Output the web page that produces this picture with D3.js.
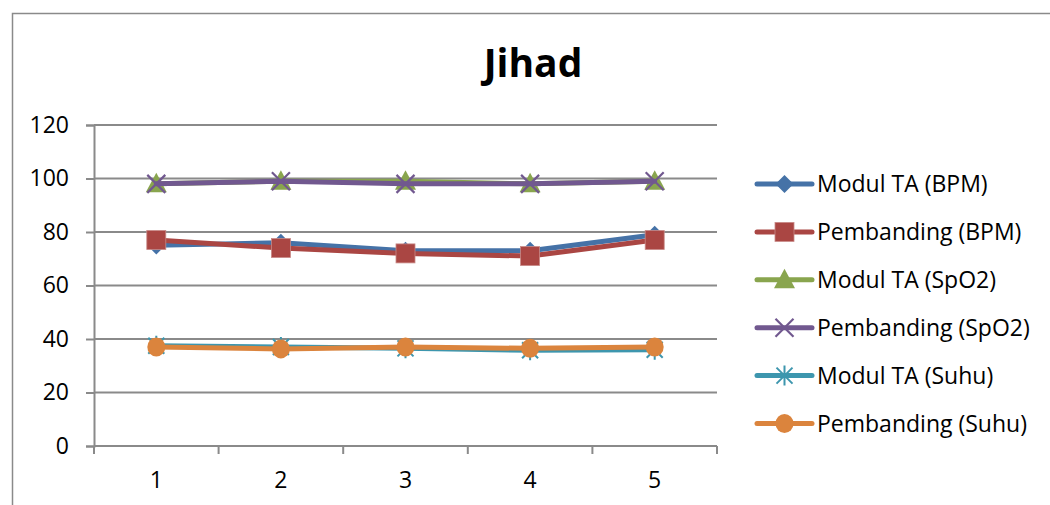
<!DOCTYPE html>
<html>
<head>
<meta charset="utf-8">
<script src="https://cdn.jsdelivr.net/npm/d3@7"></script>
<style>
  html, body { margin: 0; padding: 0; background: #fff; }
  svg { display: block; }
  text { font-family: "Open Sans", "DejaVu Sans", sans-serif; fill: #000; }
</style>
</head>
<body>
<svg id="chart" width="1050" height="505"></svg>
<script>
// Measurement rounds shown on the x axis
const categories = ["1", "2", "3", "4", "5"];
const yTicks = [0, 20, 40, 60, 80, 100, 120];

// Readings per round
const modulBPM = [75, 76, 73, 73, 79];
const pembandingBPM = [77, 74, 72, 71, 77];
const modulSpO2 = [98, 99, 99, 98, 99];
const pembandingSpO2 = [98, 99, 98, 98, 99];
const modulSuhu = [37.5, 37, 36.5, 35.8, 36];
const pembandingSuhu = [37, 36.3, 37, 36.5, 37];

const seriesNames = [
  "Modul TA (BPM)", "Pembanding (BPM)",
  "Modul TA (SpO2)", "Pembanding (SpO2)",
  "Modul TA (Suhu)", "Pembanding (Suhu)"
];
const seriesValues = [modulBPM, pembandingBPM, modulSpO2, pembandingSpO2, modulSuhu, pembandingSuhu];
const seriesColors = ["#4572A7", "#AA4643", "#89A54E", "#71588F", "#3D96AE", "#DB843D"];
const seriesMarkers = ["diamond", "square", "triangle", "cross", "star", "circle"];

const svg = d3.select("#chart");

// outer chart frame
svg.append("rect")
  .attr("x", 12.5).attr("y", 13.5)
  .attr("width", 1100).attr("height", 600)
  .attr("fill", "none").attr("stroke", "#8a8a8a").attr("stroke-width", 1.5);

const plot = { left: 94, right: 717, top: 125, bottom: 446 };

const x = d3.scaleBand().domain(categories).range([plot.left, plot.right]).padding(0);
const y = d3.scaleLinear().domain([0, 120]).range([plot.bottom, plot.top]);
const cx = c => x(c) + x.bandwidth() / 2;

// title
svg.append("text")
  .attr("x", 533).attr("y", 77)
  .attr("text-anchor", "middle")
  .attr("font-size", 39).attr("font-weight", "bold")
  .text("Jihad");

// horizontal gridlines
svg.append("g")
  .selectAll("line")
  .data(yTicks.filter(t => t > 0))
  .join("line")
  .attr("x1", plot.left).attr("x2", plot.right)
  .attr("y1", d => y(d)).attr("y2", d => y(d))
  .attr("stroke", "#8a8a8a").attr("stroke-width", 2);

// y axis
const yAxis = svg.append("g")
  .attr("transform", `translate(${plot.left},0)`)
  .call(d3.axisLeft(y).tickValues(yTicks).tickSize(8).tickPadding(17).tickFormat(d3.format("d")));
yAxis.select(".domain").attr("stroke", "#8a8a8a").attr("stroke-width", 2);
yAxis.selectAll(".tick line").attr("stroke", "#8a8a8a").attr("stroke-width", 2);
yAxis.selectAll(".tick text")
  .attr("font-size", 23).attr("font-family", "Open Sans, sans-serif").attr("fill", "#000");

// x axis: ticks between categories
const xAxisG = svg.append("g").attr("transform", `translate(0,${plot.bottom})`);
xAxisG.append("line")
  .attr("x1", plot.left).attr("x2", plot.right)
  .attr("stroke", "#8a8a8a").attr("stroke-width", 2);
const boundaries = categories.map(c => x(c)).concat([plot.right]);
xAxisG.selectAll("line.tk")
  .data(boundaries)
  .join("line").attr("class", "tk")
  .attr("x1", d => d).attr("x2", d => d)
  .attr("y1", 0).attr("y2", 8)
  .attr("stroke", "#8a8a8a").attr("stroke-width", 2);
xAxisG.selectAll("text")
  .data(categories)
  .join("text")
  .attr("x", d => cx(d)).attr("y", 42)
  .attr("text-anchor", "middle")
  .attr("font-size", 23)
  .text(d => d);

// marker drawing
function drawMarker(g, type, color) {
  switch (type) {
    case "diamond":
      g.append("path").attr("d", "M0,-9L9,0L0,9L-9,0Z").attr("fill", color);
      break;
    case "square":
      g.append("rect").attr("x", -9.5).attr("y", -9.5).attr("width", 19).attr("height", 19)
        .attr("fill", color).attr("stroke", "#c98a88").attr("stroke-width", 0.8);
      break;
    case "triangle":
      g.append("path").attr("d", "M0,-11L10.5,8.5L-10.5,8.5Z").attr("fill", color);
      break;
    case "cross":
      g.append("path").attr("d", "M-9,-9L9,9M9,-9L-9,9")
        .attr("stroke", color).attr("stroke-width", 2.2).attr("fill", "none");
      break;
    case "star":
      g.append("path").attr("d", "M-8,-8L8,8M8,-8L-8,8M0,-10L0,10")
        .attr("stroke", color).attr("stroke-width", 2).attr("fill", "none");
      break;
    case "circle":
      g.append("ellipse").attr("rx", 9).attr("ry", 9.5).attr("fill", color);
      break;
  }
}

const line = d3.line().x((d, i) => cx(categories[i])).y(d => y(d));

// series lines and markers
seriesValues.forEach((vals, si) => {
  const g = svg.append("g");
  g.append("path")
    .datum(vals)
    .attr("d", line)
    .attr("fill", "none")
    .attr("stroke", seriesColors[si])
    .attr("stroke-width", 5)
    .attr("stroke-linejoin", "round")
    .attr("stroke-linecap", "round");
  vals.forEach((v, i) => {
    const mg = g.append("g").attr("transform", `translate(${cx(categories[i])},${y(v)})`);
    drawMarker(mg, seriesMarkers[si], seriesColors[si]);
  });
});

// legend
const legend = svg.append("g");
seriesNames.forEach((name, si) => {
  const ly = 184 + si * 47.9;
  const row = legend.append("g");
  row.append("line")
    .attr("x1", 757).attr("x2", 812).attr("y1", ly).attr("y2", ly)
    .attr("stroke", seriesColors[si]).attr("stroke-width", 5).attr("stroke-linecap", "round");
  const mg = row.append("g").attr("transform", `translate(784.5,${ly})`);
  drawMarker(mg, seriesMarkers[si], seriesColors[si]);
  row.append("text")
    .attr("x", 817).attr("y", ly)
    .attr("dy", "0.36em")
    .attr("font-size", 23)
    .text(name);
});
</script>
</body>
</html>
